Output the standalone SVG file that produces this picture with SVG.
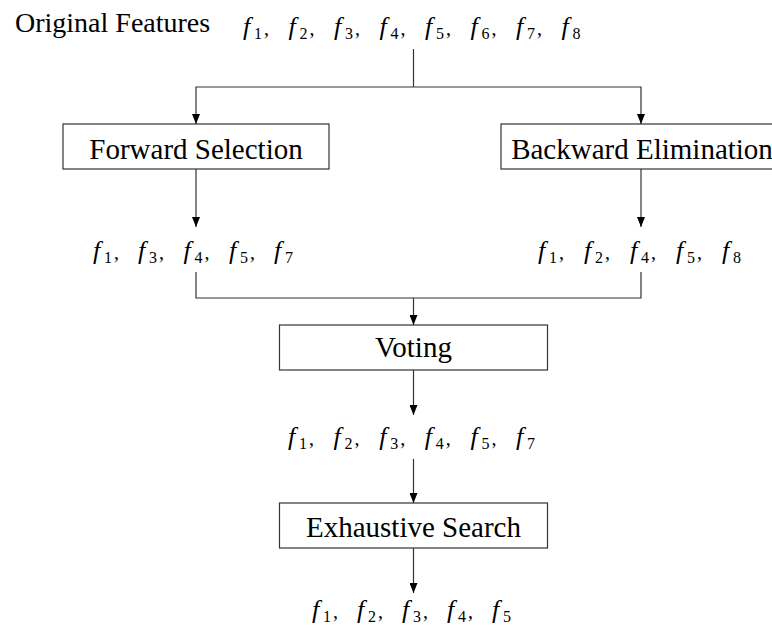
<svg xmlns="http://www.w3.org/2000/svg" width="772" height="631" viewBox="0 0 772 631">
<style>
text{font-family:"Liberation Serif","Times New Roman",serif;fill:#000}
.lbl{font-size:28px}
.bl{font-size:29px}
.box{fill:#fff;stroke:#333;stroke-width:1.2}
.ln{fill:none;stroke:#333;stroke-width:1.2}
.fl{font-size:26px}
.i{font-style:italic}
.s{font-size:16px}
.c{font-size:20px}
</style>
<defs>
<marker id="ah" markerWidth="10" markerHeight="8" refX="10" refY="4" orient="auto" markerUnits="userSpaceOnUse" viewBox="0 0 10 8">
<path d="M0,0 L10,4 L0,8 Z" fill="#000"/>
</marker>
</defs>
<rect width="772" height="631" fill="#fff"/>

<g id="original">
<text class="lbl" x="15" y="32">Original Features</text>
<text class="fl" y="35"><tspan class="i" x="243">f</tspan><tspan class="s" x="254" dy="4">1</tspan><tspan class="c" x="264" dy="-4">,</tspan><tspan class="i" x="288.5">f</tspan><tspan class="s" x="299.5" dy="4">2</tspan><tspan class="c" x="309.5" dy="-4">,</tspan><tspan class="i" x="334">f</tspan><tspan class="s" x="345" dy="4">3</tspan><tspan class="c" x="355" dy="-4">,</tspan><tspan class="i" x="379.5">f</tspan><tspan class="s" x="390.5" dy="4">4</tspan><tspan class="c" x="400.5" dy="-4">,</tspan><tspan class="i" x="425">f</tspan><tspan class="s" x="436" dy="4">5</tspan><tspan class="c" x="446" dy="-4">,</tspan><tspan class="i" x="470.5">f</tspan><tspan class="s" x="481.5" dy="4">6</tspan><tspan class="c" x="491.5" dy="-4">,</tspan><tspan class="i" x="516">f</tspan><tspan class="s" x="527" dy="4">7</tspan><tspan class="c" x="537" dy="-4">,</tspan><tspan class="i" x="561.5">f</tspan><tspan class="s" x="572.5" dy="4">8</tspan></text>
</g>

<g id="forward">
<rect class="box" x="63" y="124" width="266" height="45"/>
<text class="bl" x="196" y="159" text-anchor="middle">Forward Selection</text>
</g>

<g id="backward">
<rect class="box" x="501" y="124" width="280" height="45"/>
<text class="bl" x="642" y="159" text-anchor="middle">Backward Elimination</text>
</g>

<g id="forward-result">
<text class="fl" y="258.5"><tspan class="i" x="93">f</tspan><tspan class="s" x="104" dy="4">1</tspan><tspan class="c" x="114" dy="-4">,</tspan><tspan class="i" x="138">f</tspan><tspan class="s" x="149" dy="4">3</tspan><tspan class="c" x="159" dy="-4">,</tspan><tspan class="i" x="183.5">f</tspan><tspan class="s" x="194.5" dy="4">4</tspan><tspan class="c" x="204.5" dy="-4">,</tspan><tspan class="i" x="229">f</tspan><tspan class="s" x="240" dy="4">5</tspan><tspan class="c" x="250" dy="-4">,</tspan><tspan class="i" x="274">f</tspan><tspan class="s" x="285" dy="4">7</tspan></text>
</g>

<g id="backward-result">
<text class="fl" y="258.5"><tspan class="i" x="538">f</tspan><tspan class="s" x="549" dy="4">1</tspan><tspan class="c" x="559" dy="-4">,</tspan><tspan class="i" x="584">f</tspan><tspan class="s" x="595" dy="4">2</tspan><tspan class="c" x="605" dy="-4">,</tspan><tspan class="i" x="630">f</tspan><tspan class="s" x="641" dy="4">4</tspan><tspan class="c" x="651" dy="-4">,</tspan><tspan class="i" x="676">f</tspan><tspan class="s" x="687" dy="4">5</tspan><tspan class="c" x="697" dy="-4">,</tspan><tspan class="i" x="722">f</tspan><tspan class="s" x="733" dy="4">8</tspan></text>
</g>

<g id="voting">
<rect class="box" x="279.5" y="325" width="268" height="45"/>
<text class="bl" x="413.5" y="357" text-anchor="middle">Voting</text>
</g>

<g id="voting-result">
<text class="fl" y="445"><tspan class="i" x="288">f</tspan><tspan class="s" x="299" dy="4">1</tspan><tspan class="c" x="309" dy="-4">,</tspan><tspan class="i" x="333.6">f</tspan><tspan class="s" x="344.6" dy="4">2</tspan><tspan class="c" x="354.6" dy="-4">,</tspan><tspan class="i" x="379.2">f</tspan><tspan class="s" x="390.2" dy="4">3</tspan><tspan class="c" x="400.2" dy="-4">,</tspan><tspan class="i" x="424.8">f</tspan><tspan class="s" x="435.8" dy="4">4</tspan><tspan class="c" x="445.8" dy="-4">,</tspan><tspan class="i" x="470.4">f</tspan><tspan class="s" x="481.4" dy="4">5</tspan><tspan class="c" x="491.4" dy="-4">,</tspan><tspan class="i" x="516">f</tspan><tspan class="s" x="527" dy="4">7</tspan></text>
</g>

<g id="exhaustive">
<rect class="box" x="279.5" y="503" width="268" height="45"/>
<text class="bl" x="413.5" y="537" text-anchor="middle">Exhaustive Search</text>
</g>

<g id="final-result">
<text class="fl" y="618"><tspan class="i" x="312">f</tspan><tspan class="s" x="323" dy="4">1</tspan><tspan class="c" x="333" dy="-4">,</tspan><tspan class="i" x="357">f</tspan><tspan class="s" x="368" dy="4">2</tspan><tspan class="c" x="378" dy="-4">,</tspan><tspan class="i" x="402">f</tspan><tspan class="s" x="413" dy="4">3</tspan><tspan class="c" x="423" dy="-4">,</tspan><tspan class="i" x="447">f</tspan><tspan class="s" x="458" dy="4">4</tspan><tspan class="c" x="468" dy="-4">,</tspan><tspan class="i" x="492">f</tspan><tspan class="s" x="503" dy="4">5</tspan></text>
</g>

<g id="connectors">
<path class="ln" d="M413.5,49 V87"/>
<path class="ln" d="M413.5,87 H196 V124" marker-end="url(#ah)"/>
<path class="ln" d="M413.5,87 H641 V124" marker-end="url(#ah)"/>
<path class="ln" d="M196,169 V227" marker-end="url(#ah)"/>
<path class="ln" d="M641,169 V227" marker-end="url(#ah)"/>
<path class="ln" d="M196,272 V298 H641 V272"/>
<path class="ln" d="M413.5,298 V325" marker-end="url(#ah)"/>
<path class="ln" d="M413.5,370 V415" marker-end="url(#ah)"/>
<path class="ln" d="M413.5,459 V503" marker-end="url(#ah)"/>
<path class="ln" d="M413.5,548 V593" marker-end="url(#ah)"/>
</g>
</svg>
